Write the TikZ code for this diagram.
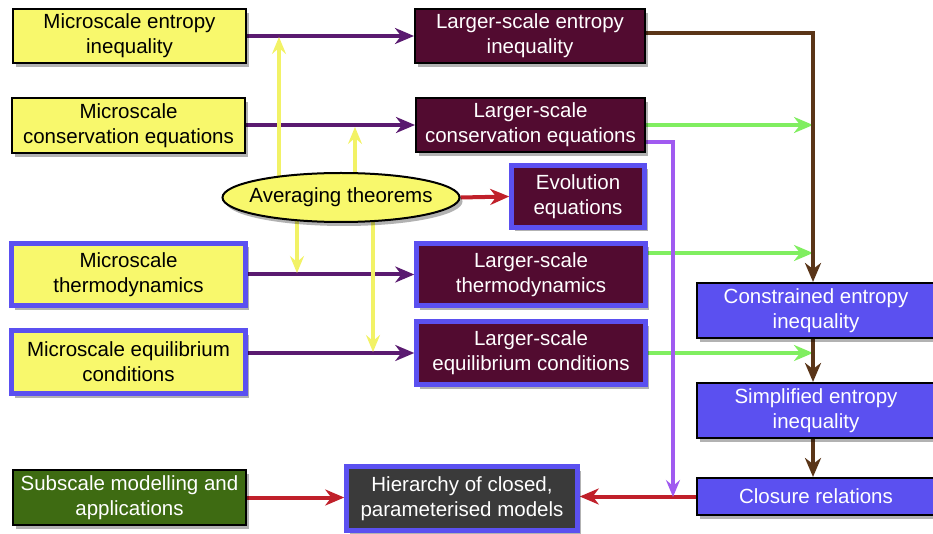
\documentclass[tikz,border=0pt]{standalone}
\usepackage{fontspec}
\setmainfont{Liberation Sans}
\usetikzlibrary{arrows.meta,shadows,shapes.geometric,backgrounds,calc}
\definecolor{yel}{HTML}{F8F86C}
\definecolor{maroon}{HTML}{520B30}
\definecolor{blu}{HTML}{5B50F0}
\definecolor{grn}{HTML}{3E6B12}
\definecolor{gry}{HTML}{3A3A3A}
\definecolor{purp}{HTML}{5A1A70}
\definecolor{yline}{HTML}{F2F266}
\definecolor{redl}{HTML}{C0202A}
\definecolor{brn}{HTML}{5A3518}
\definecolor{grl}{HTML}{80EE60}
\definecolor{lpur}{HTML}{A05AF0}
\tikzset{
  box/.style={rectangle, align=center, inner sep=0pt,
    font=\fontsize{20.5}{25}\selectfont,
    drop shadow={shadow xshift=3pt, shadow yshift=-4pt, fill=black, opacity=0.3}},
  yb/.style={box, fill=yel, draw=black, line width=2pt},
  ybb/.style={box, fill=yel, draw=blu, line width=4.5pt},
  mb/.style={box, fill=maroon, text=white, draw=black, line width=2pt},
  mbb/.style={box, fill=maroon, text=white, draw=blu, line width=4.5pt},
  cb/.style={box, fill=blu, text=white, draw=black, line width=2pt},
  conn/.style={line width=4pt, -{Stealth[length=19pt,width=16pt,inset=6pt]}},
  thinconn/.style={line width=3.5pt, -{Stealth[length=17pt,width=14pt,inset=6pt]}},
}
\begin{document}
\begin{tikzpicture}[x=1pt,y=-1pt]
\useasboundingbox (0,0) rectangle (933,534);
\clip (0,0) rectangle (933,534);

% nodes
\node[yb, minimum width=233pt, minimum height=54pt] (A1) at (129.5,36) {Microscale entropy\\inequality};
\node[yb, minimum width=233pt, minimum height=55pt] (A2) at (128.5,125.5) {Microscale\\conservation equations};
\node[ybb, minimum width=234pt, minimum height=62pt] (A3) at (128.5,274.5) {Microscale\\thermodynamics};
\node[ybb, minimum width=234pt, minimum height=63pt] (A4) at (128.5,362) {Microscale equilibrium\\conditions};
\node[box, fill=grn, text=white, draw=black, line width=2pt, minimum width=233pt, minimum height=55pt] (G) at (129.5,497.5) {Subscale modelling and\\applications};

\node[mb, minimum width=230pt, minimum height=54pt] (B1) at (530,36) {Larger-scale entropy\\inequality};
\node[mb, minimum width=229pt, minimum height=54pt] (B2) at (530.5,125) {Larger-scale\\conservation equations};
\node[mbb, minimum width=133pt, minimum height=62pt] (E) at (578,196.5) {Evolution\\equations};
\node[mbb, minimum width=229pt, minimum height=62pt] (B3) at (531,274.5) {Larger-scale\\thermodynamics};
\node[mbb, minimum width=229pt, minimum height=63pt] (B4) at (531,353) {Larger-scale\\equilibrium conditions};
\node[box, fill=gry, text=white, draw=blu, line width=4.5pt, minimum width=231pt, minimum height=64pt] (H) at (462,498.5) {Hierarchy of closed,\\parameterised models};

\node[cb, minimum width=238pt, minimum height=55pt] (C1) at (816,310.5) {Constrained entropy\\inequality};
\node[cb, minimum width=238pt, minimum height=55pt] (C2) at (816,410.5) {Simplified entropy\\inequality};
\node[cb, minimum width=238pt, minimum height=37pt] (C3) at (816,496.5) {Closure relations};

\node[ellipse, fill=yel, draw=black, line width=2pt, inner xsep=-10pt, inner ysep=0pt,
  minimum width=237pt, minimum height=49pt,
  font=\fontsize{20.5}{25}\selectfont,
  drop shadow={shadow xshift=3pt, shadow yshift=-4pt, fill=black, opacity=0.3}] (AT) at (341,197.5) {Averaging theorems};

% coordinates
\coordinate (br) at (813,33);
\coordinate (y1) at (279,37);
\coordinate (y2) at (355,127);
\coordinate (y3) at (297,273);
\coordinate (y4) at (373,352);
\coordinate (g2) at (813,253);
\coordinate (p1) at (673,142);
\coordinate (p2) at (673,497);

\begin{pgfonlayer}{background}
% purple
\draw[conn, purp] (A1.east) -- (B1.west);
\draw[conn, purp] (B2.west -| A2.east) -- (B2.west);
\draw[conn, purp] (A3.east) -- (B3.west);
\draw[conn, purp] (B4.west -| A4.east) -- (B4.west);
% yellow
\draw[thinconn, yline] (y1 |- AT.center) -- (y1);
\draw[thinconn, yline] (y2 |- AT.center) -- (y2);
\draw[thinconn, yline] (y3 |- AT.center) -- (y3);
\draw[thinconn, yline] (y4 |- AT.center) -- (y4);
% red
\draw[conn, redl] (AT.east) -- (E.west);
\draw[conn, redl] (G.east) -- (G.east -| H.west);
\draw[conn, redl] (C3.west) -- (C3.west -| H.east);
% green
\draw[conn, grl] (B2.east) -- (B2.east -| br);
\draw[conn, grl] (g2 -| B3.east) -- (g2);
\draw[conn, grl] (B4.east) -- (B4.east -| br);
% brown
\draw[conn, brn] (br -| B1.east) -- (br) -- (br |- C1.north);
\draw[conn, brn] (br |- C1.south) -- (br |- C2.north);
\draw[conn, brn] (br |- C2.south) -- (br |- C3.north);
% light purple
\draw[thinconn, lpur] (p1 -| B2.east) -- (p1) -- (p2);
\end{pgfonlayer}
\end{tikzpicture}
\end{document}
